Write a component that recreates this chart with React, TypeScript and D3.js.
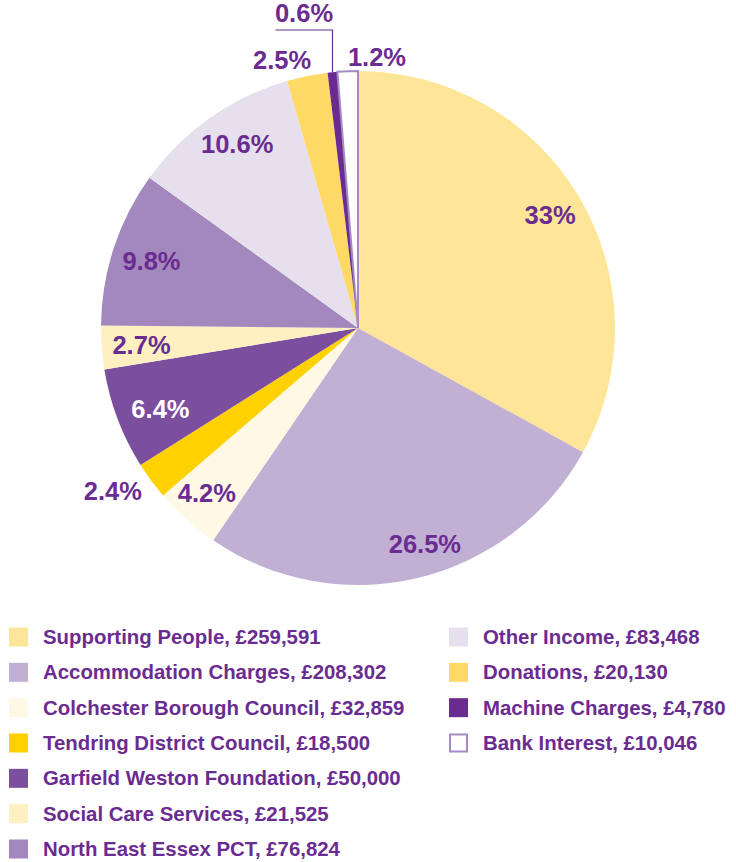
import React from "react";
import * as d3 from "d3";

const categories = [
  "Supporting People",
  "Accommodation Charges",
  "Colchester Borough Council",
  "Tendring District Council",
  "Garfield Weston Foundation",
  "Social Care Services",
  "North East Essex PCT",
  "Other Income",
  "Donations",
  "Machine Charges",
  "Bank Interest",
];
const amounts = [259591, 208302, 32859, 18500, 50000, 21525, 76824, 83468, 20130, 4780, 10046];
const percentLabels = ["33%", "26.5%", "4.2%", "2.4%", "6.4%", "2.7%", "9.8%", "10.6%", "2.5%", "0.6%", "1.2%"];

const colors = [
  "#fee598", "#c2afd4", "#fff8e5", "#ffd100", "#7c4f9e", "#fef0c0",
  "#a288bd", "#e6dfee", "#fed966", "#6a2c91", "#ffffff",
];
// label layout: radius factor and angle nudge (deg); null => leader line
const labelRadius = [0.868, 0.88, 0.87, 1.144, 0.83, 0.845, 0.845, 0.856, 1.086, null, 1.058];
const labelNudge = [0, -3.8, 0.7, 2.9, -1.4, -0.1, -0.2, 1.8, -4.4, 0, 6.3];

const PURPLE = "#6a2c91";
const FONT = "Helvetica, Arial, 'Liberation Sans', sans-serif";

export default function App() {
  const cx = 358, cy = 328, R = 257;
  const pie = d3.pie<number>().sort(null).value((d) => d);
  const arcs = pie(amounts);
  const arcGen = d3.arc<d3.PieArcDatum<number>>().innerRadius(0).outerRadius(R);

  const leftRows = [0, 1, 2, 3, 4, 5, 6];
  const rightRows = [7, 8, 9, 10];
  const rowY = d3.scalePoint<number>().domain(d3.range(7)).range([637, 849]);

  const legendItem = (i: number, row: number, x: number) => {
    const y = rowY(row)!;
    const isBank = i === 10;
    return (
      <g key={i}>
        <rect
          x={isBank ? x + 1 : x}
          y={isBank ? y - 8.5 : y - 9.5}
          width={isBank ? 17 : 19}
          height={isBank ? 17 : 19}
          fill={colors[i]}
          stroke={isBank ? "#a58bc4" : "none"}
          strokeWidth={isBank ? 2 : 0}
        />
        <text x={x + 34} y={y} dy="0.35em" fontFamily={FONT} fontWeight="bold" fontSize={20.4} fill={PURPLE}>
          {`${categories[i]}, £${d3.format(",")(amounts[i])}`}
        </text>
      </g>
    );
  };

  return (
    <svg width={736} height={862} style={{ position: "absolute", left: 0, top: 0, background: "#fff" }}>
      <g transform={`translate(${cx},${cy})`}>
        {arcs.map((a, i) => (
          <path
            key={i}
            d={arcGen(a)!}
            fill={colors[i]}
            stroke={i === 10 ? "#a58bc4" : "none"}
            strokeWidth={i === 10 ? 2 : 0}
            strokeLinejoin="miter"
          />
        ))}
        {arcs.map((a, i) => {
          const mid = (a.startAngle + a.endAngle) / 2;
          if (labelRadius[i] === null) {
            const px = R * Math.sin(mid);
            const py = -R * Math.cos(mid);
            const elbowY = -R - 41;
            const endX = px - 57;
            return (
              <g key={"l" + i}>
                <polyline
                  points={`${px},${py} ${px},${elbowY} ${endX},${elbowY}`}
                  fill="none"
                  stroke={PURPLE}
                  strokeWidth={1.2}
                />
                <text
                  x={(px + endX) / 2}
                  y={elbowY - 8}
                  textAnchor="middle"
                  fontFamily={FONT}
                  fontWeight="bold"
                  fontSize={25.5}
                  fill={PURPLE}
                >
                  {percentLabels[i]}
                </text>
              </g>
            );
          }
          const ang = mid + (labelNudge[i] * Math.PI) / 180;
          const r = R * (labelRadius[i] as number);
          return (
            <text
              key={"l" + i}
              x={r * Math.sin(ang)}
              y={-r * Math.cos(ang)}
              dy="0.36em"
              textAnchor="middle"
              fontFamily={FONT}
              fontWeight="bold"
              fontSize={25.5}
              fill={i === 4 ? "#ffffff" : PURPLE}
            >
              {percentLabels[i]}
            </text>
          );
        })}
      </g>
      {leftRows.map((i, row) => legendItem(i, row, 9))}
      {rightRows.map((i, row) => legendItem(i, row, 449))}
    </svg>
  );
}
